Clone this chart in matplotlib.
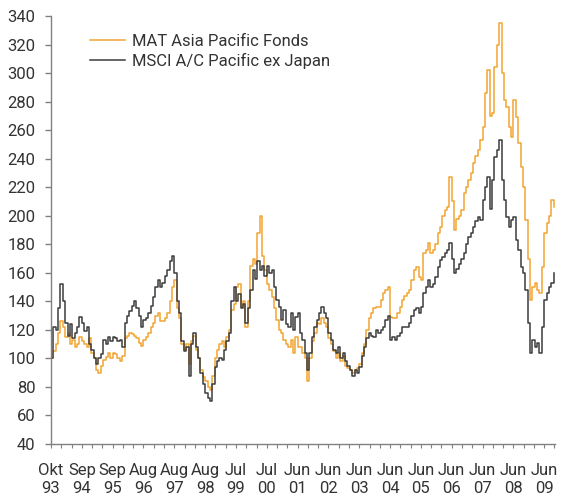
import matplotlib.pyplot as plt
import numpy as np

# 4-weekly index values, 13 per year, starting Okt 93 (=100)
msci = [
    100, 122, 120, 135, 152, 140, 125, 116, 124, 114, 118, 122, 129,   # 93/94
    125, 119, 122, 110, 106, 100, 96, 100, 103, 113, 110, 115, 112,    # 94/95
    115, 114, 112, 113, 108, 125, 130, 133, 137, 140, 135, 130, 122,   # 95/96
    127, 128, 132, 137, 143, 150, 155, 150, 153, 158, 162, 168, 172,   # 96/97
    160, 140, 132, 112, 105, 108, 88, 110, 118, 108, 100, 90, 82,      # 97/98
    76, 72, 70, 82, 94, 98, 100, 99, 106, 112, 118, 140, 150,          # 98/99
    140, 145, 135, 138, 125, 135, 148, 162, 156, 168, 162, 165, 158,   # 99/00
    165, 160, 162, 150, 141, 136, 127, 134, 124, 122, 132, 120, 129,   # 00/01
    132, 118, 113, 104, 92, 104, 115, 122, 127, 132, 136, 132, 128,    # 01/02
    118, 113, 106, 104, 108, 100, 104, 98, 95, 92, 88, 92, 90,         # 02/03
    94, 102, 108, 114, 118, 116, 115, 120, 118, 120, 122, 127, 130,    # 03/04
    113, 115, 113, 116, 118, 122, 122, 122, 125, 130, 134, 135, 132,   # 04/05
    136, 146, 150, 155, 150, 152, 157, 164, 169, 171, 174, 176, 181,   # 05/06
    170, 160, 163, 166, 170, 174, 180, 185, 188, 192, 196, 199, 197,   # 06/07
    211, 220, 227, 205, 225, 241, 246, 253, 225, 211, 199, 192, 197,   # 07/08
    199, 183, 176, 164, 160, 148, 125, 104, 113, 108, 111, 104, 122,   # 08/09
    141, 146, 150, 153, 160,                                           # 09
]
mat = [
    100, 105, 110, 118, 126, 122, 115, 118, 110, 113, 108, 110, 115,
    112, 110, 108, 114, 104, 100, 92, 90, 95, 99, 101, 104, 100,
    104, 103, 100, 98, 102, 114, 116, 118, 117, 116, 114, 111, 109,
    113, 115, 118, 122, 125, 130, 132, 126, 126, 128, 132, 140, 150,
    155, 135, 128, 110, 106, 110, 96, 112, 116, 106, 100, 92, 87,
    84, 80, 78, 88, 100, 106, 110, 112, 108, 115, 120, 134, 138,
    150, 152, 136, 140, 122, 140, 165, 170, 166, 188, 200, 172, 162,
    152, 148, 143, 135, 127, 120, 118, 113, 110, 108, 113, 104, 115,
    108, 108, 104, 100, 84, 100, 112, 118, 125, 124, 128, 125, 122,
    114, 110, 105, 100, 104, 98, 102, 95, 93, 92, 90, 92, 93,
    96, 104, 110, 120, 128, 132, 135, 136, 136, 141, 146, 148, 150,
    129, 128, 128, 132, 136, 141, 144, 146, 148, 155, 162, 164, 157,
    155, 174, 176, 181, 174, 176, 180, 188, 192, 200, 204, 206, 227,
    210, 190, 198, 200, 204, 216, 220, 225, 230, 237, 242, 246, 253,
    262, 286, 302, 270, 272, 304, 320, 335, 300, 281, 276, 262, 255,
    281, 269, 251, 234, 220, 197, 170, 141, 150, 153, 148, 146, 164,
    188, 195, 200, 211, 206,
]
months = ["Okt", "Sep", "Sep", "Aug", "Aug", "Aug", "Jul", "Jul", "Jun",
          "Jun", "Jun", "Jun", "Jun", "Jun", "Jun", "Jun", "Jun"]
years = ["93", "94", "95", "96", "97", "98", "99", "00", "01",
         "02", "03", "04", "05", "06", "07", "08", "09"]

plt.rcParams['font.family'] = ['Roboto', 'DejaVu Sans']

fig = plt.figure(figsize=(5.63, 5.0), dpi=100)
ax = fig.add_axes([0.0906, 0.112, 0.895, 0.856])

x = np.arange(len(msci))
ax.plot(x, mat, color='#F2A531', lw=1.1, drawstyle='steps-post',
        label='MAT Asia Pacific Fonds')
ax.plot(x, msci, color='#3c3c3c', lw=1.1, drawstyle='steps-post',
        label='MSCI A/C Pacific ex Japan')

ax.set_ylim(40, 340)
ax.set_xlim(0, 212.5)
ax.set_yticks(range(40, 341, 20))
ax.set_xticks(np.arange(len(months)) * 13)
ax.set_xticklabels([f"{m}\n{y}" for m, y in zip(months, years)], linespacing=1.25)
ax.set_xticks(np.arange(0, 213, 13 / 3), minor=True)

for s in ['top', 'right']:
    ax.spines[s].set_visible(False)
for s in ['left', 'bottom']:
    ax.spines[s].set_color('#808080')
    ax.spines[s].set_linewidth(1.0)

ax.tick_params(axis='y', length=4, width=1, color='#808080', pad=7,
               labelsize=12, labelcolor='#333333')
ax.tick_params(axis='x', which='both', length=3, width=0.8, color='#808080',
               direction='out')
ax.tick_params(axis='x', which='major', pad=11, labelsize=12, labelcolor='#333333')

ax.legend(loc='upper left', bbox_to_anchor=(0.055, 0.985), frameon=False,
          fontsize=12, labelcolor='#333333', handlelength=2.1,
          handletextpad=0.4, labelspacing=0.25, borderaxespad=0.3)

fig.savefig('out.png', dpi=100)
